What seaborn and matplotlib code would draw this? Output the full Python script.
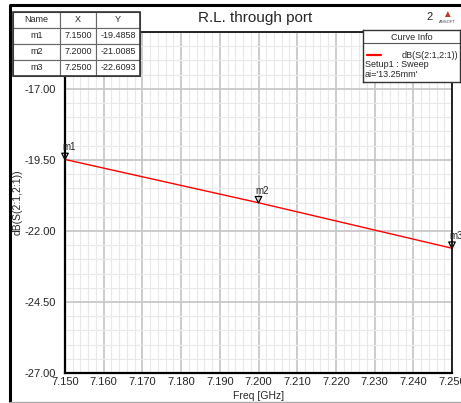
import numpy as np
import pandas as pd
import seaborn as sns
import matplotlib
matplotlib.use("Agg")
import matplotlib.pyplot as plt
import matplotlib.transforms as mtransforms
from matplotlib.patches import Rectangle
from matplotlib.lines import Line2D
from matplotlib.ticker import MultipleLocator, FixedLocator, FormatStrFormatter

# Curve / marker data
marker_names = ["m1", "m2", "m3"]
freq_ghz = [7.15, 7.20, 7.25]
db_s21 = [-19.4858, -21.0085, -22.6093]

title = "R.L. through port"
curve_label = "dB(S(2:1,2:1))"
curve_setup = "Setup1 : Sweep"
curve_param = "ai='13.25mm'"

sns.set_style("white")
plt.rcParams["font.family"] = ["Liberation Sans", "DejaVu Sans"]

df = pd.DataFrame({"Freq": freq_ghz, "dB": db_s21, "Name": marker_names})

fig = plt.figure(figsize=(4.61, 4.03), dpi=100)
ax = fig.add_axes([65 / 461, 1 - 373 / 403, 387 / 461, 341 / 403])

sns.lineplot(data=df, x="Freq", y="dB", color="red", linewidth=1.0, ax=ax)

ax.set_xlim(7.15, 7.25)
ax.set_ylim(-27, -15)
ax.xaxis.set_major_locator(MultipleLocator(0.01))
ax.xaxis.set_minor_locator(MultipleLocator(0.002))
ax.yaxis.set_major_locator(FixedLocator([-27, -24.5, -22, -19.5, -17]))
ax.yaxis.set_minor_locator(MultipleLocator(0.5))
ax.xaxis.set_major_formatter(FormatStrFormatter("%.3f"))
ax.yaxis.set_major_formatter(FormatStrFormatter("%.2f"))

ax.grid(which="major", color="#c8c8c8", linewidth=1.3)
ax.grid(which="minor", color="#e9e9e9", linewidth=0.8)
ax.set_axisbelow(True)

ax.tick_params(axis="y", which="major", direction="out", length=5, width=0.8, labelsize=8, pad=1.5)
ax.tick_params(axis="y", which="minor", direction="out", length=2, width=0.8)
ax.tick_params(axis="x", which="major", direction="in", length=3, width=0.8, labelsize=8, pad=3)
ax.tick_params(axis="x", which="minor", direction="in", length=2.5, width=0.8)
for s in ["left", "bottom"]:
    ax.spines[s].set_linewidth(1.6)
for s in ["top", "right"]:
    ax.spines[s].set_linewidth(1.2)
for s in ax.spines.values():
    s.set_color("black")

ax.set_xlabel("Freq [GHz]", fontsize=7.5)
ax.set_ylabel(curve_label, fontsize=7.5)
ax.xaxis.set_label_coords(0.5, -0.052)
ax.yaxis.set_label_coords(-0.11, 0.5)
ax.xaxis.label.set_va("top")

# markers: open downward triangles sitting on the curve, with names above
tri_off = mtransforms.offset_copy(ax.transData, fig=fig, x=0, y=3, units="dots")
ax.scatter(freq_ghz, db_s21, marker="v", s=22, facecolors="none", edgecolors="black",
           linewidths=0.9, transform=tri_off, clip_on=False, zorder=5)
for name, fx, fy in zip(marker_names, freq_ghz, db_s21):
    ax.annotate(name, (fx, fy), xytext=(-3, 7), textcoords="offset pixels",
                fontsize=7, ha="left", va="bottom", annotation_clip=False)

# marker table
cell_text = [[n, f"{x:.4f}", f"{y:.4f}"] for n, x, y in zip(marker_names, freq_ghz, db_s21)]
tax = fig.add_axes([13 / 461, 1 - 76 / 403, 127 / 461, 64 / 403])
tax.axis("off")
tbl = tax.table(cellText=cell_text, colLabels=["Name", "X", "Y"],
                cellLoc="center", bbox=[0, 0, 1, 1],
                colWidths=[47 / 127, 36 / 127, 44 / 127])
tbl.auto_set_font_size(False)
tbl.set_fontsize(6.5)
for cell in tbl.get_celld().values():
    cell.set_edgecolor("#666666")
    cell.set_linewidth(0.8)
    cell.set_facecolor("white")
tax.add_patch(Rectangle((0, 0), 1, 1, transform=tax.transAxes, fill=False,
                        edgecolor="#333333", linewidth=1.2, clip_on=False))

# curve info box
lax = fig.add_axes([363 / 461, 1 - 82 / 403, 97 / 461, 52 / 403])
lax.set_xlim(0, 97)
lax.set_ylim(52, 0)
lax.set_xticks([])
lax.set_yticks([])
for s in lax.spines.values():
    s.set_color("#333333")
    s.set_linewidth(1.0)
lax.axhline(13, color="#555555", linewidth=0.8)
lax.text(48.5, 7, "Curve Info", ha="center", va="center", fontsize=6.5)
lax.plot([4, 18], [25, 25], color="red", linewidth=1.6)
lax.text(95, 25, curve_label, ha="right", va="center", fontsize=6.5)
lax.text(2, 34.5, curve_setup, ha="left", va="center", fontsize=6.5)
lax.text(2, 44.5, curve_param, ha="left", va="center", fontsize=6.5)

# title, plot number, logo
fig.text(255 / 461, 1 - 18 / 403, title, ha="center", va="center", fontsize=11)
fig.text(430 / 461, 1 - 17 / 403, "2", ha="center", va="center", fontsize=8)
fig.text(447 / 461, 1 - 14 / 403, "\u25b2", ha="center", va="center", fontsize=7, color="#c0392b")
fig.text(447 / 461, 1 - 22 / 403, "ANSOFT", ha="center", va="center", fontsize=3, color="#444444")

# outer frame: thick top/left, light bottom, open to the right
fig.lines.append(Line2D([10 / 461, 10 / 461, 1.0], [1 - 401 / 403, 1 - 5 / 403, 1 - 5 / 403],
                        transform=fig.transFigure, color="black", linewidth=2.2))
fig.lines.append(Line2D([10 / 461, 1.0], [1 - 401.5 / 403, 1 - 401.5 / 403],
                        transform=fig.transFigure, color="#aaaaaa", linewidth=1.0))

fig.savefig("out.png", dpi=100)
